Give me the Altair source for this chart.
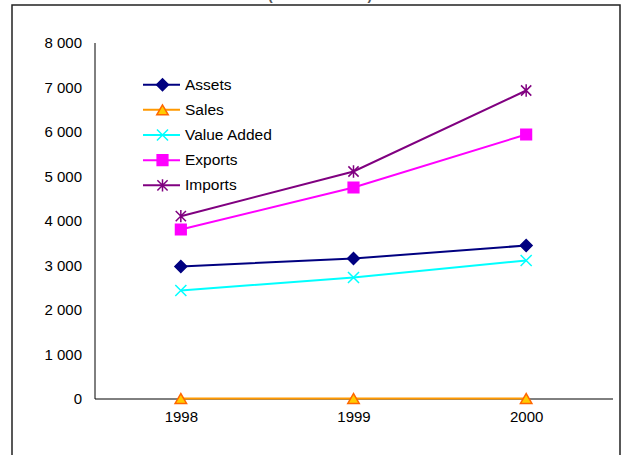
import altair as alt
import pandas as pd

# Series values by year
YEARS = ["1998", "1999", "2000"]
SERIES = ["Assets", "Sales", "Value Added", "Exports", "Imports"]
ASSETS = [2966, 3146, 3438]
SALES = [0, 0, 0]
VALUE_ADDED = [2427, 2719, 3101]
EXPORTS = [3798, 4742, 5933]
IMPORTS = [4097, 5101, 6921]
Y_TICKS = [0, 1000, 2000, 3000, 4000, 5000, 6000, 7000, 8000]
SUBTITLE = "(in EUR million)"

LINE_COLORS = ["#000080", "#FF9900", "#00FFFF", "#FF00FF", "#800080"]
MARK_FILLS = ["#000080", "#FFCC00", "transparent", "#FF00FF", "transparent"]
MARK_STROKES = ["#000080", "#FF6600", "#00FFFF", "#FF00FF", "#800080"]
X_SHAPE = "M-1,-1L1,1M-1,1L1,-1"
STAR_SHAPE = "M-1,-1L1,1M-1,1L1,-1M0,-1.2L0,1.2"
SHAPES = ["diamond", "triangle-up", X_SHAPE, "square", STAR_SHAPE]
SIZES = [140, 105, 115, 135, 135]

values = [ASSETS, SALES, VALUE_ADDED, EXPORTS, IMPORTS]
rows = []
for name, vals in zip(SERIES, values):
    for yr, v in zip(YEARS, vals):
        rows.append({"year": yr, "series": name, "value": v})
df = pd.DataFrame(rows)
legend_df = pd.DataFrame({"series": SERIES})

FONT = "Liberation Sans"

color_scale = alt.Scale(domain=SERIES, range=LINE_COLORS)
fill_scale = alt.Scale(domain=SERIES, range=MARK_FILLS)
stroke_scale = alt.Scale(domain=SERIES, range=MARK_STROKES)
shape_scale = alt.Scale(domain=SERIES, range=SHAPES)
size_scale = alt.Scale(domain=SERIES, range=SIZES)

x_enc = alt.X(
    "year:O",
    scale=alt.Scale(domain=YEARS, type="point", padding=0.5),
    axis=alt.Axis(
        title=None, labelAngle=0, ticks=False, labelPadding=11,
        domainColor="#000000", domainWidth=1, labelFont=FONT,
        labelFontSize=15, labelColor="#000000",
    ),
)
y_enc = alt.Y(
    "value:Q",
    scale=alt.Scale(domain=[0, 8000], nice=False),
    axis=alt.Axis(
        title=None, values=Y_TICKS, ticks=False, grid=False, labelPadding=13,
        domainColor="#000000", domainWidth=1, labelFont=FONT,
        labelFontSize=15, labelColor="#000000",
        labelExpr="replace(format(datum.value, ',d'), ',', ' ')",
    ),
)

lines = alt.Chart(df).mark_line(strokeWidth=2).encode(
    x=x_enc, y=y_enc,
    color=alt.Color("series:N", scale=color_scale, legend=None),
    detail="series:N",
)

points = alt.Chart(df).mark_point(opacity=1, strokeWidth=1.5).encode(
    x=x_enc, y=y_enc,
    shape=alt.Shape("series:N", scale=shape_scale, legend=None),
    fill=alt.Fill("series:N", scale=fill_scale, legend=None),
    stroke=alt.Stroke("series:N", scale=stroke_scale, legend=None),
    size=alt.Size("series:N", scale=size_scale, legend=None),
)

data_layer = alt.layer(lines, points)

# Hand-drawn legend inside the plot area
leg_y = alt.Y(
    "series:N",
    scale=alt.Scale(domain=SERIES, type="point", padding=0, range=[42.2, 142.8]),
    axis=None,
)
leg_lines = alt.Chart(legend_df).mark_rule(strokeWidth=2).encode(
    x=alt.value(48.5), x2=alt.value(85.5), y=leg_y,
    color=alt.Color("series:N", scale=color_scale, legend=None),
)
leg_points = alt.Chart(legend_df).mark_point(opacity=1, strokeWidth=1.5).encode(
    x=alt.value(68), y=leg_y,
    shape=alt.Shape("series:N", scale=shape_scale, legend=None),
    fill=alt.Fill("series:N", scale=fill_scale, legend=None),
    stroke=alt.Stroke("series:N", scale=stroke_scale, legend=None),
    size=alt.Size("series:N", scale=size_scale, legend=None),
)
leg_text = alt.Chart(legend_df).mark_text(
    align="left", baseline="middle", font=FONT, fontSize=15.5, color="#000000"
).encode(x=alt.value(90.5), y=leg_y, text="series:N")

legend_layer = alt.layer(leg_lines, leg_points, leg_text)

frame = alt.Chart(alt.Data(values=[{}])).mark_rect(
    fill="transparent", stroke="#222222", strokeWidth=1.5
).encode(
    x=alt.value(-82.5), x2=alt.value(525.5),
    y=alt.value(-37.5), y2=alt.value(425),
)

subtitle = alt.Chart(alt.Data(values=[{}])).mark_text(
    align="center", baseline="alphabetic", font=FONT, fontSize=14,
    fontWeight="bold", color="#555555", text=SUBTITLE,
).encode(x=alt.value(225.5), y=alt.value(-43))

chart = (
    alt.layer(frame, subtitle, data_layer, legend_layer)
    .resolve_scale(y="independent")
    .properties(
        width=518, height=356,
        autosize=alt.AutoSizeParams(type="none"),
        padding={"left": 94.5, "top": 42.5, "right": 13.5, "bottom": 56.5},
        background="white",
    )
    .configure_view(stroke=None)
)

chart.save("out.html", embed_options={"renderer": "svg", "actions": False})
